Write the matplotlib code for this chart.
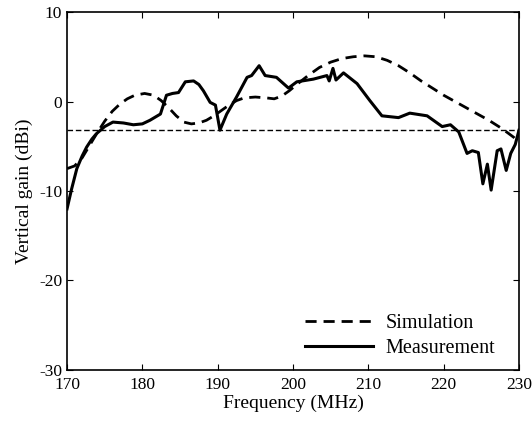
import numpy as np
import matplotlib.pyplot as plt

plt.rcParams['font.family'] = ['Liberation Serif', 'DejaVu Serif']
plt.rcParams['axes.unicode_minus'] = False

# simulation (dashed)
sim_f = [170.0, 171.0, 172.0, 173.0, 174.0, 175.0, 176.0, 177.0, 178.0, 179.0,
         180.3, 181.5, 182.5, 183.5, 184.5, 185.5, 186.5, 187.5, 188.5, 189.5,
         190.5, 191.5, 192.5, 193.5, 195.0, 196.5, 197.5, 198.5, 199.5, 200.5,
         202.0, 203.5, 205.0, 206.5, 208.0, 209.5, 211.0, 212.5, 214.0, 215.5,
         217.0, 218.5, 220.0, 221.5, 223.0, 224.5, 226.0, 227.5, 228.5, 229.3,
         230.0]
sim_g = [-7.5, -7.2, -6.3, -4.9, -3.5, -2.2, -1.1, -0.3, 0.3, 0.7,
         0.9, 0.7, 0.1, -0.7, -1.6, -2.3, -2.5, -2.4, -2.1, -1.6,
         -1.0, -0.4, 0.1, 0.4, 0.5, 0.4, 0.3, 0.6, 1.2, 1.9,
         2.9, 3.8, 4.4, 4.8, 5.0, 5.1, 5.0, 4.6, 4.0, 3.2,
         2.3, 1.5, 0.7, 0.0, -0.7, -1.4, -2.1, -2.9, -3.5, -4.0,
         -4.6]

# measurement (solid)
meas_f = [170.0, 170.6, 171.3, 172.0, 172.6, 173.3, 173.9, 175.0, 176.1, 177.5,
          178.8, 180.0, 181.0, 182.4, 183.2, 184.0, 184.8, 185.7, 186.8, 187.5,
          188.1, 189.0, 189.7, 190.3, 191.2, 192.5, 193.9, 194.5, 195.5, 196.3,
          197.8, 199.4, 200.5, 202.7, 204.5, 204.8, 205.3, 205.7, 206.7, 208.5,
          210.2, 211.8, 214.0, 215.5, 217.8, 219.8, 220.9, 222.0, 223.1, 223.8,
          224.6, 225.2, 225.8, 226.3, 227.1, 227.6, 228.3, 228.9, 229.5, 230.0]
meas_g = [-12.0, -9.8, -7.5, -6.1, -5.1, -4.2, -3.6, -2.8, -2.3, -2.4,
          -2.6, -2.5, -2.1, -1.4, 0.7, 0.9, 1.0, 2.2, 2.3, 1.9,
          1.2, -0.1, -0.4, -3.2, -1.4, 0.5, 2.7, 2.9, 4.0, 2.9,
          2.7, 1.5, 2.2, 2.5, 2.9, 2.3, 3.7, 2.4, 3.2, 2.0,
          0.1, -1.6, -1.8, -1.3, -1.6, -2.8, -2.6, -3.4, -5.8, -5.5,
          -5.7, -9.2, -7.0, -9.9, -5.5, -5.3, -7.7, -5.8, -4.8, -3.2]

ref_level = -3.2

fig = plt.figure(figsize=(5.32, 4.26), dpi=100)
ax = fig.add_axes([0.126, 0.1315, 0.8496, 0.8403])

ax.plot(sim_f, sim_g, 'k--', lw=2.0, dashes=(4, 2.5), label='Simulation')
ax.plot(meas_f, meas_g, 'k-', lw=2.2, label='Measurement')
ax.axhline(ref_level, color='k', lw=1.0, ls='--', dashes=(4, 2))

ax.set_xlim(170, 230)
ax.set_ylim(-30, 10)
ax.set_xticks(np.arange(170, 231, 10))
ax.set_yticks(np.arange(-30, 11, 10))
ax.tick_params(direction='in', top=True, right=True, labelsize=12.5, length=4)
ax.tick_params(axis='x', pad=5)
for s in ax.spines.values():
    s.set_linewidth(1.2)

ax.set_xlabel('Frequency (MHz)', fontsize=14, labelpad=1)
ax.set_ylabel('Vertical gain (dBi)', fontsize=14, labelpad=4)

ax.legend(loc='lower right', frameon=False, fontsize=14.5, handlelength=3.4,
          handletextpad=0.6, bbox_to_anchor=(0.965, 0.012), borderaxespad=0,
          labelspacing=0.25)

fig.savefig('out.png', dpi=100)
